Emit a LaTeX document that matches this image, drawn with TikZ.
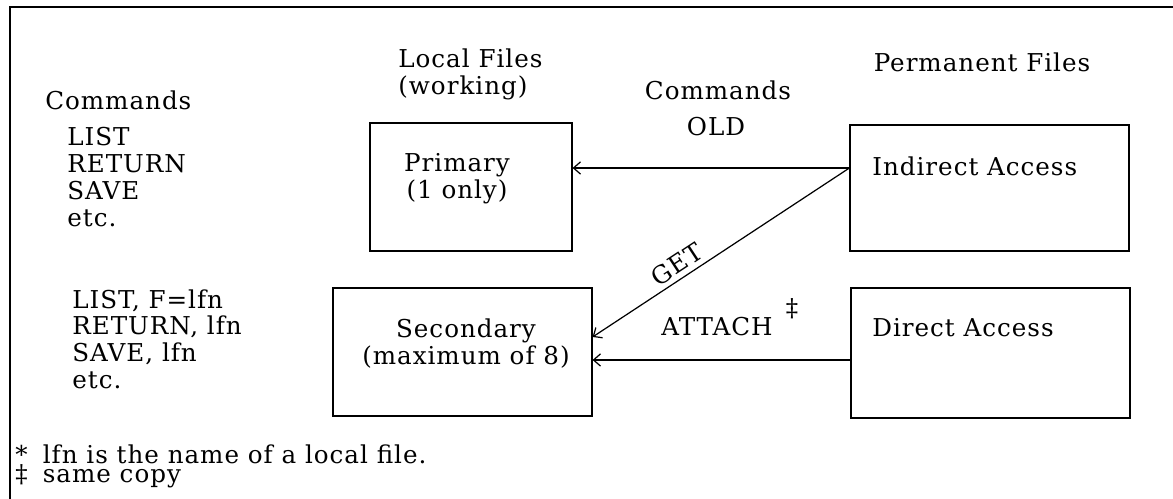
\documentclass[tikz,border=0pt]{standalone}
\usepackage{fontspec}
\setmainfont{DejaVu Serif}[LetterSpace=4]
\usetikzlibrary{arrows.meta,calc}
\tikzset{
    box/.style={draw, line width=0.7pt, inner sep=0pt},
    flow/.style={-{Straight Barb[length=4pt,width=7pt]}, line width=0.7pt},
    note/.style={font=\fontsize{14}{15.2}\selectfont, align=left, inner sep=0pt},
    heading/.style={note, align=center},
    footnote/.style={note, font={\fontsize{14}{10.8}\selectfont\lineskiplimit -20pt\relax}},
}

\begin{document}
\begin{tikzpicture}[x=0.02cm, y=0.02cm]
    \useasboundingbox (0,0) rectangle (1173,499);
    \draw[line width=0.9pt] (1173,492) -- (10,492) -- (10,0);

    % headings
    \node[note, anchor=west] (local) at (398,424.5) {Local Files\\(working)};
    \node[heading] (permanent) at (982,437) {Permanent Files};
    \node[heading] (cmdmid) at (718,409) {Commands};
    \node[heading] (old) at (716,372) {OLD};
    \node[note, anchor=west] (cmdleft) at (45,399) {Commands};
    \node[note, anchor=west] (plain) at (67,322) {LIST\\RETURN\\SAVE\\etc.};
    \node[note, anchor=west] (withlfn) at (72,160) {LIST, F=lfn\\RETURN, lfn\\SAVE, lfn\\etc.};

    % file boxes
    \node[box, minimum width=4.04cm, minimum height=2.56cm] (primary) at (471,312) {};
    \node[box, minimum width=5.18cm, minimum height=2.56cm] (secondary) at (462.5,147) {};
    \node[box, minimum width=5.58cm, minimum height=2.52cm] (indirect) at (989.5,311) {};
    \node[box, minimum width=5.58cm, minimum height=2.6cm] (direct) at (990.5,146) {};
    \node[heading] (primarytext) at (457,320.5) {Primary\\(1 only)};
    \node[heading] (secondarytext) at (466,155.5) {Secondary\\(maximum of 8)};
    \node[note, anchor=west] (indirecttext) at (872,333) {Indirect Access};
    \node[note, anchor=west] (directtext) at (872,171) {Direct Access};

    \coordinate (oldstart) at ([yshift=0.4cm]indirect.west);
    \coordinate (getend) at ([yshift=0.3cm]secondary.east);
    \coordinate (attachstart) at ([yshift=-0.14cm]direct.west);

    \draw[flow] (oldstart) -- (oldstart -| primary.east);
    \draw[flow] (oldstart) -- node[note, sloped, above=2.5pt, pos=0.64] {GET} (getend);
    \draw[flow] (attachstart) -- (attachstart -| secondary.east);
    \node[heading] (attach) at (717,172) {ATTACH};
    \node[note] (attachmark) at (792,190) {‡};

    % footnotes
    \node[footnote, anchor=west] (foot) at (15,33) {\makebox[0.55cm][l]{*}lfn is the name of a local file.\\
        \makebox[0.55cm][l]{‡}same copy};
\end{tikzpicture}
\end{document}
